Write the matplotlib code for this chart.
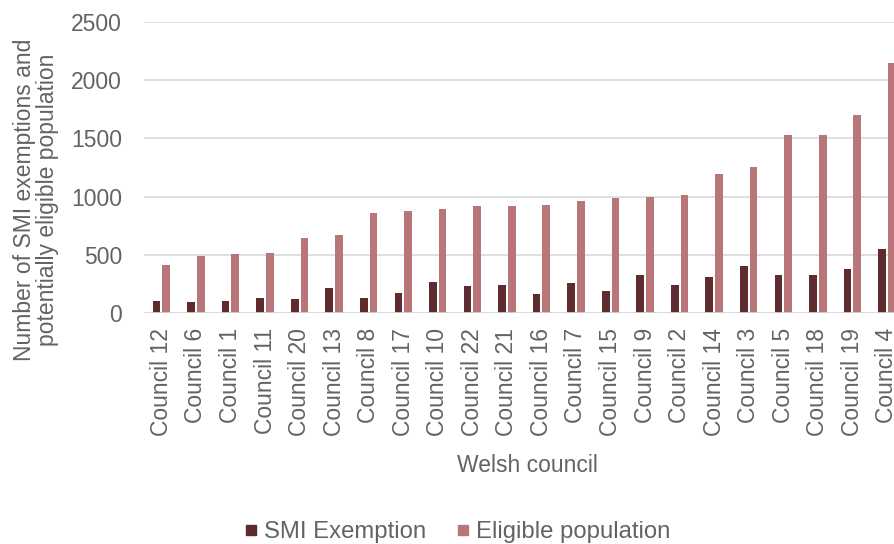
import matplotlib
matplotlib.use("Agg")
import matplotlib.pyplot as plt
from matplotlib.lines import Line2D
import numpy as np

plt.rcParams['font.family'] = ['Liberation Sans', 'DejaVu Sans']

councils = ["Council 12", "Council 6", "Council 1", "Council 11", "Council 20",
            "Council 13", "Council 8", "Council 17", "Council 10", "Council 22",
            "Council 21", "Council 16", "Council 7", "Council 15", "Council 9",
            "Council 2", "Council 14", "Council 3", "Council 5", "Council 18",
            "Council 19", "Council 4"]
smi_exemption = [100, 89, 100, 129, 115, 213, 129, 172, 267, 227, 239, 158,
                 253, 184, 322, 239, 310, 405, 322, 322, 379, 546]
eligible_population = [408, 491, 503, 517, 641, 667, 862, 876, 891, 917, 917, 931,
                       960, 986, 1000, 1014, 1195, 1250, 1526, 1526, 1704, 2149]
y_ticks = [0, 500, 1000, 1500, 2000, 2500]

dark = "#5e2b2f"
rose = "#b87678"
grid_c = "#d9d9d9"
text_c = "#636363"
fs = 16.5

W, H = 895, 544
fig = plt.figure(figsize=(W / 100, H / 100), dpi=100)
ax_left, ax_right = 144.1, 904.2
ax_top, ax_bottom = 22.3, 312.7
ax = fig.add_axes([ax_left / W, (H - ax_bottom) / H,
                   (ax_right - ax_left) / W, (ax_bottom - ax_top) / H])

x = np.arange(len(councils))
bw = 0.223
off = 0.14
ax.bar(x - off, smi_exemption, width=bw, color=dark, zorder=3, label="SMI Exemption")
ax.bar(x + off, eligible_population, width=bw, color=rose, zorder=3, label="Eligible population")

ax.set_xlim(-0.5, len(councils) - 0.5)
ax.set_ylim(0, 2500)
ax.set_yticks(y_ticks)
ax.set_yticklabels([str(v) for v in y_ticks])
ax.set_xticks(x)
ax.set_xticklabels(councils, rotation=90)
ax.tick_params(axis='both', length=0, labelsize=fs, colors=text_c)
ax.tick_params(axis='y', pad=16)
ax.tick_params(axis='x', pad=11)
ax.grid(axis='y', color=grid_c, linewidth=1.2, zorder=0)
for s in ax.spines.values():
    s.set_visible(False)
ax.axhline(0, color=grid_c, linewidth=1.2, zorder=4)

fig.text(36 / W, (H - 200) / H,
         "Number of SMI exemptions and\npotentially eligible population",
         rotation=90, ha='center', va='center', multialignment='center',
         fontsize=fs, color=text_c, linespacing=1.05)
fig.text(527.5 / W, (H - 472) / H, "Welsh council", ha='center', va='baseline',
         fontsize=fs, color=text_c)

handles = [Line2D([], [], marker='s', linestyle='none', markersize=7, color=dark),
           Line2D([], [], marker='s', linestyle='none', markersize=7, color=rose)]
fig.legend(handles, ["SMI Exemption", "Eligible population"], ncol=2,
           loc='center', bbox_to_anchor=(458 / W, (H - 532) / H),
           frameon=False, fontsize=17.2, labelcolor=text_c,
           handlelength=0.45, handletextpad=0.3, columnspacing=1.35,
           borderpad=0, borderaxespad=0)

fig.savefig("out.png", dpi=100)
